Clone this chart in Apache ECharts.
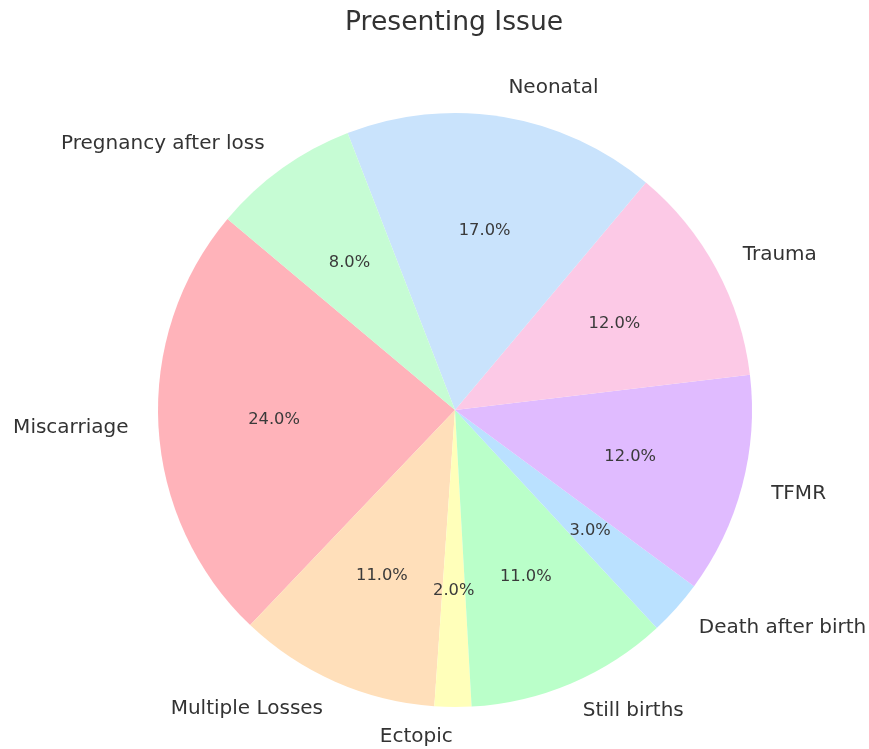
<!DOCTYPE html>
<html>
<head>
<meta charset="utf-8">
<style>html,body{margin:0;padding:0;background:#fff;}#main{width:869px;height:749px;}</style>
<script src="https://cdn.jsdelivr.net/npm/echarts@6/dist/echarts.min.js"></script>
</head>
<body>
<div id="main"></div>
<script>
const categories = ["Miscarriage", "Multiple Losses", "Ectopic", "Still births", "Death after birth", "TFMR", "Trauma", "Neonatal", "Pregnancy after loss"];
const values = [24, 11, 2, 11, 3, 12, 12, 17, 8];
const colors = ["#ffb3ba", "#ffdfba", "#ffffba", "#baffc9", "#bae1ff", "#e0bbff", "#fcc9e6", "#c9e3fc", "#c6fcd4"];

const chart = echarts.init(document.getElementById('main'), null, {renderer: 'canvas'});
const R = 297;
const center = [455, 410];
const font = "DejaVu Sans";

const mainData = categories.map((c, i) => ({name: c, value: values[i], itemStyle: {color: colors[i]}}));
const pctData = categories.map((c, i) => ({name: c, value: values[i]}));

chart.setOption({
  backgroundColor: '#ffffff',
  animation: false,
  title: {
    text: 'Presenting Issue',
    left: 340,
    top: 5,
    textStyle: {fontFamily: font, fontSize: 26.6, fontWeight: 'normal', color: '#333333'}
  },
  series: [
    {
      type: 'pie',
      center: center,
      radius: [0, R],
      startAngle: 140,
      clockwise: false,
      avoidLabelOverlap: false,
      silent: true,
      itemStyle: {borderWidth: 0},
      label: {
        show: true,
        position: 'outside',
        fontFamily: font,
        fontSize: 20,
        color: '#333333',
        distanceToLabelLine: 0,
        formatter: '{b}'
      },
      labelLine: {show: false, length: 30, length2: 0},
      data: mainData
    },
    {
      type: 'pie',
      center: center,
      radius: [R * 0.6 - 2, R * 0.6 + 2],
      startAngle: 140,
      clockwise: false,
      avoidLabelOverlap: false,
      silent: true,
      itemStyle: {color: 'rgba(0,0,0,0)'},
      label: {
        show: true,
        position: 'inside',
        fontFamily: font,
        fontSize: 16.3,
        color: '#3a3a3a',
        formatter: p => p.value.toFixed(1) + '%'
      },
      labelLine: {show: false},
      data: pctData
    }
  ]
});
</script>
</body>
</html>
